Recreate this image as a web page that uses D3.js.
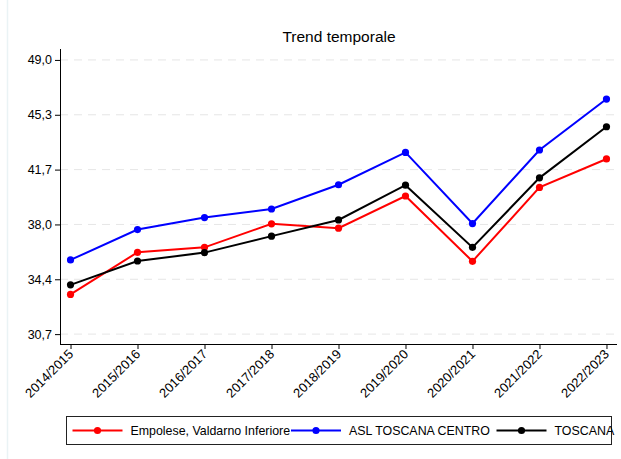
<!DOCTYPE html>
<html><head><meta charset="utf-8">
<script src="https://cdn.jsdelivr.net/npm/d3@7"></script>
<style>body{margin:0;background:#fff}svg{display:block}text{font-family:"Liberation Sans",Arial,sans-serif;fill:#000}</style>
</head><body><svg id="c" width="621" height="459"></svg>
<script>
const categories = ["2014/2015","2015/2016","2016/2017","2017/2018","2018/2019","2019/2020","2020/2021","2021/2022","2022/2023"];
const empolese = [33.35,36.16,36.49,38.06,37.77,39.92,35.56,40.49,42.39];
const aslCentro = [35.65,37.68,38.48,39.05,40.67,42.83,38.08,42.99,46.39];
const toscana = [33.99,35.58,36.14,37.24,38.32,40.64,36.49,41.13,44.54];
const yTicks = [30.7,34.36,38.02,41.68,45.34,49.0];
const seriesNames = ["Empolese, Valdarno Inferiore","ASL TOSCANA CENTRO","TOSCANA"];
const seriesColors = ["#ff0000","#0000ff","#000000"];
const series = [empolese, aslCentro, toscana];

const svg = d3.select("#c");
const L=60, R=617, T=49, B=344;
const x = d3.scalePoint().domain(categories).range([L,R]).padding(0.157);
const y = d3.scaleLinear().domain([30.04,49.73]).range([B,T]);

svg.append("line").attr("x1",7.5).attr("x2",7.5).attr("y1",0).attr("y2",459).attr("stroke","#eaf3f5").attr("stroke-width",1.5);

svg.append("text").attr("x",339).attr("y",42).attr("text-anchor","middle").attr("font-size",15.5).text("Trend temporale");

// grid
svg.append("g").selectAll("line").data(yTicks).join("line")
  .attr("x1",L).attr("x2",R).attr("y1",d=>y(d)).attr("y2",d=>y(d))
  .attr("stroke","#e6e6e6").attr("stroke-width",1).attr("stroke-dasharray","8,6");

const fmt = d=>d.toFixed(1).replace(".",",");
const ya = svg.append("g").attr("transform",`translate(${L},0)`)
  .call(d3.axisLeft(y).tickValues(yTicks).tickFormat(fmt).tickSize(5).tickPadding(3));
ya.select(".domain").attr("d",`M0.5,${T}V${B}`).attr("stroke","#000");
ya.selectAll("text").attr("font-size",12.5).attr("font-family","Liberation Sans, Arial, sans-serif");

const xa = svg.append("g").attr("transform",`translate(0,${B})`)
  .call(d3.axisBottom(x).tickSize(5).tickSizeOuter(0));
xa.select(".domain").attr("d",`M${L},0.5H${R}`).attr("stroke","#000");
xa.selectAll("text").attr("font-size",13).attr("font-family","Liberation Sans, Arial, sans-serif")
  .attr("text-anchor","end").attr("x",0).attr("y",0).attr("dy",0)
  .attr("transform","translate(3,11) rotate(-45)");

const line = d3.line().x((d,i)=>x(categories[i])).y(d=>y(d));
series.forEach((s,k)=>{
  const g = svg.append("g");
  g.append("path").attr("d",line(s)).attr("fill","none").attr("stroke",seriesColors[k]).attr("stroke-width",2);
  g.selectAll("circle").data(s).join("circle").attr("cx",(d,i)=>x(categories[i])).attr("cy",d=>y(d)).attr("r",3.6).attr("fill",seriesColors[k]);
});

// legend
const lg = svg.append("g");
lg.append("rect").attr("x",66.5).attr("y",416.5).attr("width",545).attr("height",28).attr("fill","#fff").attr("stroke","#222").attr("stroke-width",1);
const lx = [72.5,291,496.5];
seriesNames.forEach((n,k)=>{
  const gy = 430.5;
  lg.append("line").attr("x1",lx[k]).attr("x2",lx[k]+50).attr("y1",gy).attr("y2",gy).attr("stroke",seriesColors[k]).attr("stroke-width",2);
  lg.append("circle").attr("cx",lx[k]+25).attr("cy",gy).attr("r",3.6).attr("fill",seriesColors[k]);
  lg.append("text").attr("x",lx[k]+58).attr("y",gy+4.6).attr("font-size",12.4).text(n);
});
</script></body></html>
